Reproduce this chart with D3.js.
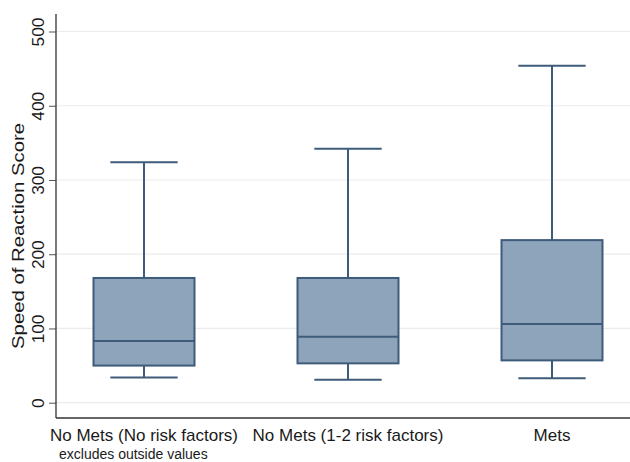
<!DOCTYPE html>
<html>
<head>
<meta charset="utf-8">
<script src="https://cdn.jsdelivr.net/npm/d3@7"></script>
<style>
    body { margin: 0; background: #fff; }
    svg text { font-family: "Liberation Sans", Arial, sans-serif; fill: #1a1a1a; }
</style>
</head>
<body>
<div id="chart"></div>
<script>
// box plot data
const groups = ["No Mets (No risk factors)", "No Mets (1-2 risk factors)", "Mets"];
const whiskerLow = [34, 31, 33];
const q1 = [50, 53, 57];
const median = [83, 89, 106];
const q3 = [168, 168, 219];
const whiskerHigh = [324, 342, 454];
const yTicks = [0, 100, 200, 300, 400, 500];
const note = "excludes outside values";
const yTitle = "Speed of Reaction Score";

function drawChart() {
    let frame = { width: 630, height: 462 },
        axisX = 56,
        axisTop = 14,
        axisBottom = 418;

    let svg = d3.select("#chart").append("svg")
        .attr("width", frame.width)
        .attr("height", frame.height);

    let y = d3.scaleLinear()
        .domain([0, 500])
        .range([402.7, 31.5]);

    let x = d3.scalePoint()
        .domain(groups)
        .range([144, 552]);

    let step = x.step();
    let boxW = step * 0.495;
    let capW = step * 0.33;

    // gridlines
    svg.append("g")
        .selectAll("line")
        .data(yTicks)
        .join("line")
        .attr("x1", axisX)
        .attr("x2", frame.width)
        .attr("y1", d => y(d))
        .attr("y2", d => y(d))
        .attr("stroke", "#ebebeb")
        .attr("stroke-width", 1.2);

    // y axis, labels stand on their side like Stata does
    let yAxis = svg.append("g")
        .attr("transform", "translate(" + axisX + ",0)")
        .call(d3.axisLeft(y).tickValues(yTicks).tickSize(7).tickSizeOuter(0));
    yAxis.select(".domain").remove();
    yAxis.selectAll(".tick line").attr("stroke", "#555");
    yAxis.selectAll(".tick text")
        .style("font-size", "16px")
        .attr("text-anchor", "middle")
        .attr("x", null)
        .attr("y", null)
        .attr("dy", null)
        .attr("transform", "translate(-12,0) rotate(-90)")
        .attr("textLength", d => String(d).length * 9.6)
        .attr("lengthAdjust", "spacingAndGlyphs")
        .attr("fill", "#1a1a1a");

    svg.append("line")
        .attr("x1", axisX).attr("x2", axisX)
        .attr("y1", axisTop).attr("y2", axisBottom)
        .attr("stroke", "#333").attr("stroke-width", 1.3);
    svg.append("line")
        .attr("x1", axisX).attr("x2", frame.width)
        .attr("y1", axisBottom).attr("y2", axisBottom)
        .attr("stroke", "#333").attr("stroke-width", 1.3);

    // axis title
    svg.append("text")
        .attr("transform", "translate(24,236) rotate(-90)")
        .attr("text-anchor", "middle")
        .attr("textLength", 226)
        .attr("lengthAdjust", "spacingAndGlyphs")
        .style("font-size", "16.5px")
        .text(yTitle);

    // boxes
    let g = svg.append("g")
        .selectAll("g")
        .data(groups)
        .join("g");

    let stroke = "#3e5b79";

    g.append("line")
        .attr("x1", d => x(d)).attr("x2", d => x(d))
        .attr("y1", (d, i) => y(whiskerHigh[i]))
        .attr("y2", (d, i) => y(q3[i]))
        .attr("stroke", stroke).attr("stroke-width", 2);
    g.append("line")
        .attr("x1", d => x(d)).attr("x2", d => x(d))
        .attr("y1", (d, i) => y(q1[i]))
        .attr("y2", (d, i) => y(whiskerLow[i]))
        .attr("stroke", stroke).attr("stroke-width", 2);
    g.append("line")
        .attr("x1", d => x(d) - capW / 2).attr("x2", d => x(d) + capW / 2)
        .attr("y1", (d, i) => y(whiskerHigh[i]))
        .attr("y2", (d, i) => y(whiskerHigh[i]))
        .attr("stroke", stroke).attr("stroke-width", 2);
    g.append("line")
        .attr("x1", d => x(d) - capW / 2).attr("x2", d => x(d) + capW / 2)
        .attr("y1", (d, i) => y(whiskerLow[i]))
        .attr("y2", (d, i) => y(whiskerLow[i]))
        .attr("stroke", stroke).attr("stroke-width", 2);
    g.append("rect")
        .attr("x", d => x(d) - boxW / 2)
        .attr("width", boxW)
        .attr("y", (d, i) => y(q3[i]))
        .attr("height", (d, i) => y(q1[i]) - y(q3[i]))
        .attr("fill", "#8ea4bb")
        .attr("stroke", stroke).attr("stroke-width", 2);
    g.append("line")
        .attr("x1", d => x(d) - boxW / 2).attr("x2", d => x(d) + boxW / 2)
        .attr("y1", (d, i) => y(median[i]))
        .attr("y2", (d, i) => y(median[i]))
        .attr("stroke", stroke).attr("stroke-width", 2);

    // category labels
    svg.append("g")
        .selectAll("text")
        .data(groups)
        .join("text")
        .attr("x", d => x(d))
        .attr("y", 441)
        .attr("text-anchor", "middle")
        .style("font-size", "17px")
        .text(d => d);

    svg.append("text")
        .attr("x", 59)
        .attr("y", 459)
        .style("font-size", "14px")
        .text(note);
}

drawChart();
</script>
</body>
</html>
